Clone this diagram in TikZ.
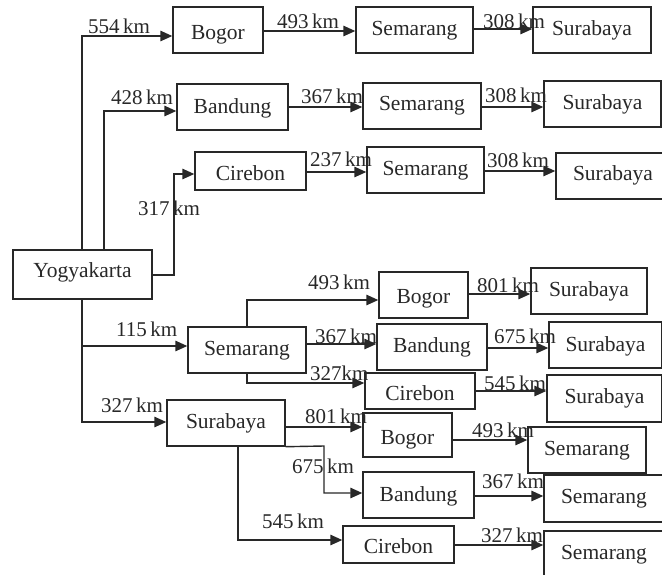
\documentclass[tikz,border=0pt]{standalone}
\usepackage{fontspec}
\setmainfont{Liberation Serif}
\usetikzlibrary{arrows.meta}
\definecolor{ink}{RGB}{40,40,40}
\newcommand{\mybox}[7]{\node[box, minimum width={(#4-#2)*1pt}, minimum height={(#5-#3)*1pt}, text height={2*#6 pt}] (#1) at ({(#2+#4)/2},{(#3+#5)/2}) {#7};}
\begin{document}
\begin{tikzpicture}[x=1pt, y=-1pt,
  box/.style={draw=ink, line width=1.4pt, inner sep=0pt, text depth=0pt, text=ink, font=\fontsize{21.5}{24}\selectfont},
  lbl/.style={inner sep=0pt, anchor=base west, text=ink, font=\fontsize{21}{24}\selectfont},
  ln/.style={draw=ink, line width=1.4pt},
  arr/.style={draw=ink, line width=1.4pt, -{Triangle[length=12pt,width=10.5pt]}}]
\useasboundingbox (0,0) rectangle (662,574);
\clip (0,0) rectangle (662,574);
% boxes
\mybox{yog}{13}{250}{152}{299}{3}{Yogyakarta}
\mybox{bog1}{173}{7}{263}{53}{9}{Bogor}
\mybox{sem1}{356}{7}{473}{53}{5}{Semarang}
\mybox{sur1}{533}{7}{651}{53}{5}{Surabaya}
\mybox{ban1}{177}{84}{288}{130}{6}{Bandung}
\mybox{sem2}{363}{83}{481}{129}{4.5}{Semarang}
\mybox{sur2}{544}{81}{661}{127}{5}{Surabaya}
\mybox{cir1}{195}{152}{306}{190}{9.5}{Cirebon}
\mybox{sem3}{367}{147}{484}{193}{5}{Semarang}
\mybox{sur3}{556}{153}{670}{199}{4.5}{Surabaya}
\mybox{sem4}{188}{327}{306}{373}{5}{Semarang}
\mybox{sur4}{167}{400}{285}{446}{5}{Surabaya}
\mybox{bog2}{379}{272}{468}{318}{8}{Bogor}
\mybox{sur5}{531}{268}{647}{314}{5}{Surabaya}
\mybox{ban2}{377}{324}{487}{370}{5}{Bandung}
\mybox{sur6}{549}{322}{662}{368}{6}{Surabaya}
\mybox{cir2}{365}{373}{475}{409}{9}{Cirebon}
\mybox{sur7}{547}{375}{662}{422}{4.5}{Surabaya}
\mybox{bog3}{363}{413}{452}{457}{9.5}{Bogor}
\mybox{sem5}{528}{427}{646}{473}{5}{Semarang}
\mybox{ban3}{363}{472}{474}{518}{6}{Bandung}
\mybox{sem6}{544}{475}{664}{522}{4.5}{Semarang}
\mybox{cir3}{343}{526}{454}{563}{8.5}{Cirebon}
\mybox{sem7}{544}{531}{664}{582}{2.5}{Semarang}
% connectors from Yogyakarta
\draw[arr] (yog.north -| 82,0) |- (bog1.west |- 0,36);
\draw[arr] (yog.north -| 104,0) |- (ban1.west |- 0,111);
\draw[arr] (yog.east |- 0,275) -- (174,275) |- (cir1.west |- 0,174);
\draw[arr] (yog.south -| 82,0) |- (sem4.west |- 0,346);
\draw[arr] (yog.south -| 82,0) |- (sur4.west |- 0,422);
% top rows
\draw[arr] (bog1.east |- 0,31) -- (sem1.west |- 0,31);
\draw[arr] (sem1.east |- 0,29) -- (sur1.west |- 0,29);
\draw[arr] (ban1.east |- 0,107) -- (sem2.west |- 0,107);
\draw[arr] (sem2.east |- 0,107) -- (sur2.west |- 0,107);
\draw[arr] (cir1.east |- 0,172) -- (sem3.west |- 0,172);
\draw[arr] (sem3.east |- 0,171) -- (sur3.west |- 0,171);
% from Semarang
\draw[arr] (sem4.north -| 247,0) |- (bog2.west |- 0,300);
\draw[arr] (sem4.east |- 0,344) -- (ban2.west |- 0,344);
\draw[arr] (sem4.south -| 247,0) |- (cir2.west |- 0,383);
\draw[arr] (bog2.east |- 0,294) -- (sur5.west |- 0,294);
\draw[arr] (ban2.east |- 0,348) -- (sur6.west |- 0,348);
\draw[arr] (cir2.east |- 0,391) -- (sur7.west |- 0,391);
% from Surabaya
\draw[arr] (sur4.east |- 0,427) -- (bog3.west |- 0,427);
\draw[arr] (sur4.south east) -- (324,446) |- (ban3.west |- 0,493);
\draw[arr] (sur4.south -| 238,0) |- (cir3.west |- 0,540);
\draw[arr] (bog3.east |- 0,440) -- (sem5.west |- 0,440);
\draw[arr] (ban3.east |- 0,496) -- (sem6.west |- 0,496);
\draw[arr] (cir3.east |- 0,545) -- (sem7.west |- 0,545);
% labels
\node[lbl] (l1) at (88,33) {554\,km};
\node[lbl] (l2) at (111,104) {428\,km};
\node[lbl] (l3) at (138,215) {317\,km};
\node[lbl] (l4) at (277,28) {493\,km};
\node[lbl] (l5) at (483,28) {308\,km};
\node[lbl] (l6) at (301,103) {367\,km};
\node[lbl] (l7) at (485,102) {308\,km};
\node[lbl] (l8) at (310,166) {237\,km};
\node[lbl] (l9) at (487,167) {308\,km};
\node[lbl] (l10) at (116,336) {115\,km};
\node[lbl] (l11) at (101,412) {327\,km};
\node[lbl] (l12) at (308,289) {493\,km};
\node[lbl] (l13) at (315,343) {367\,km};
\node[lbl] (l14) at (310,380) {327km};
\node[lbl] (l15) at (305,423) {801\,km};
\node[lbl] (l16) at (292,473) {675\,km};
\node[lbl] (l17) at (262,528) {545\,km};
\node[lbl] (l18) at (477,292) {801\,km};
\node[lbl] (l19) at (494,343) {675\,km};
\node[lbl] (l20) at (484,390) {545\,km};
\node[lbl] (l21) at (472,437) {493\,km};
\node[lbl] (l22) at (482,488) {367\,km};
\node[lbl] (l23) at (481,542) {327\,km};
\end{tikzpicture}
\end{document}
